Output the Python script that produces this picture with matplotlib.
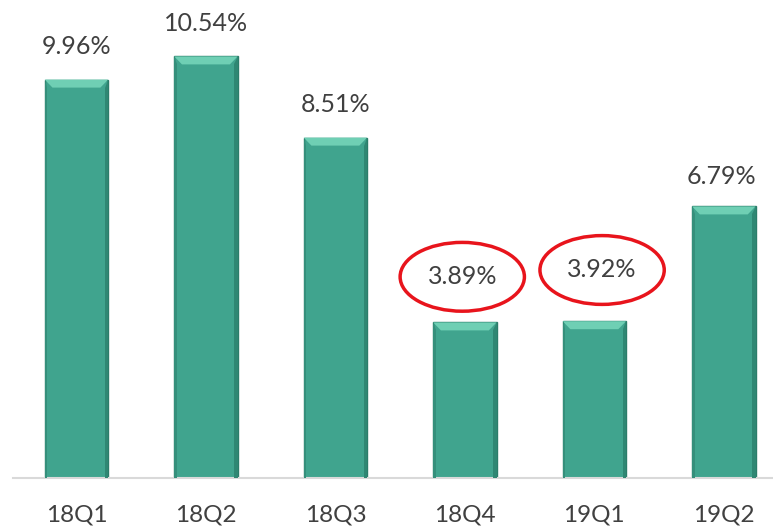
import matplotlib.pyplot as plt
from matplotlib.patches import Ellipse, Polygon

quarters = ["18Q1", "18Q2", "18Q3", "18Q4", "19Q1", "19Q2"]
values = [9.96, 10.54, 8.51, 3.89, 3.92, 6.79]
labels = ["9.96%", "10.54%", "8.51%", "3.89%", "3.92%", "6.79%"]
highlight = [3, 4]

plt.rcParams['font.family'] = ['Lato', 'DejaVu Sans']

fig = plt.figure(figsize=(7.73, 5.27), dpi=100)
ax = fig.add_axes([13 / 773, 49 / 527, 760 / 773, 478 / 527])

x = list(range(len(values)))
w = 0.49
bars = ax.bar(x, values, width=w, color="#40a48e", edgecolor="#2b7d6a", linewidth=1.0, zorder=2)

# bevel on the top of each bar
for b in bars:
    x0 = b.get_x()
    x1 = x0 + b.get_width()
    top = b.get_height()
    bx = 0.06
    by = 0.2
    ax.add_patch(Polygon([[x0, top], [x1, top], [x1 - bx, top - by], [x0 + bx, top - by]],
                         closed=True, facecolor="#6fcfb4", edgecolor="none", zorder=3))
    ax.add_patch(Polygon([[x1, top], [x1, 0], [x1 - 0.025, 0], [x1 - 0.025, top - by]],
                         closed=True, facecolor="#2f8773", edgecolor="none", zorder=3))
    ax.add_patch(Polygon([[x0, top], [x0, 0], [x0 + 0.02, 0], [x0 + 0.02, top - by]],
                         closed=True, facecolor="#358f7b", edgecolor="none", zorder=3))

# value labels
offsets = [0.82, 0.81, 0.82, 1.14, 1.28, 0.74]
shifts = [0, 0, 0, -0.02, 0.06, -0.02]
for i, v in enumerate(values):
    ax.text(i + shifts[i], v + offsets[i], labels[i], ha="center", va="center",
            fontsize=18, color="#404040")

# red circles round the two low quarters
for i in highlight:
    ax.add_patch(Ellipse((i + shifts[i], values[i] + offsets[i]), 0.96, 1.72,
                         fill=False, edgecolor="#e8141c", linewidth=2.5, zorder=4))

ax.set_xlim(-0.49, 5.38)
ax.set_ylim(0, 11.95)
ax.set_xticks(x)
ax.set_xticklabels(quarters, fontsize=17.5, color="#404040")
ax.tick_params(axis="x", length=0, pad=19)
ax.set_yticks([])
for s in ["top", "right", "left"]:
    ax.spines[s].set_visible(False)
ax.spines["bottom"].set_color("#d9d9d9")
ax.spines["bottom"].set_linewidth(1.5)

plt.savefig("out.png", dpi=100)
